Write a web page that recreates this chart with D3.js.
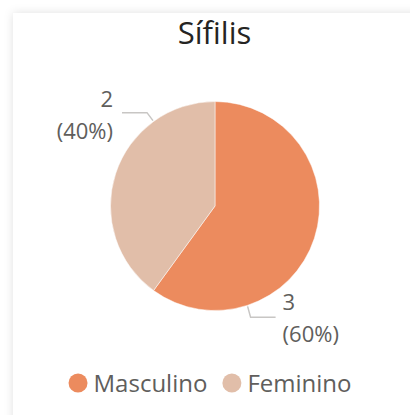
<!DOCTYPE html>
<meta charset="utf-8">
<style>
body{ margin: 0; background: #fff; }
text{ font-family: "Open Sans", "Noto Sans", sans-serif; }
.title{ fill: #252423; font-size: 31px; }
.lbl{ fill: #605e5c; font-size: 22px; }
.leg{ fill: #605e5c; font-size: 24px; }
.leader{ fill: none; stroke: #c8c6c4; stroke-width: 1.5px; }
</style>
<body>
<script src="https://d3js.org/d3.v7.min.js"></script>
<script>

var categories = ["Masculino", "Feminino"];
var values = [3, 2];
var colors = ["#ec8b5e", "#e1bea9"];
var title = "Sífilis";

var width = 410,
    height = 415;

var cx = 215, cy = 206, radius = 104.5;

var svg = d3.select("body").append("svg")
    .attr("width", width)
    .attr("height", height);

var defs = svg.append("defs");
var f = defs.append("filter").attr("id", "shadow")
    .attr("x", "-10%").attr("y", "-10%").attr("width", "120%").attr("height", "120%");
f.append("feDropShadow")
    .attr("dx", 0).attr("dy", 0).attr("stdDeviation", 5)
    .attr("flood-color", "#000").attr("flood-opacity", 0.12);

svg.append("rect")
    .attr("x", 13).attr("y", 13)
    .attr("width", 440).attr("height", 440)
    .attr("fill", "#fff")
    .attr("filter", "url(#shadow)");

svg.append("text")
    .attr("class", "title")
    .attr("x", 214.5).attr("y", 44)
    .attr("text-anchor", "middle")
    .text(title);

var data = categories.map((c, i) => ({name: c, value: values[i], color: colors[i]}));
var total = d3.sum(values);

var pie = d3.pie().sort(null).value(d => d.value);
var arc = d3.arc().innerRadius(0).outerRadius(radius);

var g = svg.append("g").attr("transform", "translate(" + cx + "," + cy + ")");
var arcs = pie(data);

g.selectAll("path")
  .data(arcs)
  .enter().append("path")
    .attr("d", arc)
    .attr("fill", d => d.data.color)
    .attr("stroke", "#fff")
    .attr("stroke-width", 0.5);

// leader layout: where along the slice the line starts (0..1), elbow offset, tail length
var leaderPos = [0.75, 0.75];
var leaderElbow = [[3, 11], [-6, -8]];
var leaderTail = [25, -25];

arcs.forEach(function(a, i) {
    var ang = a.startAngle + (a.endAngle - a.startAngle) * leaderPos[i];
    var x0 = Math.sin(ang) * (radius + 1),
        y0 = -Math.cos(ang) * (radius + 1);
    var x1 = x0 + leaderElbow[i][0],
        y1 = y0 + leaderElbow[i][1];
    var x2 = x1 + leaderTail[i];
    g.append("path")
        .attr("class", "leader")
        .attr("d", "M" + x0 + "," + y0 + "L" + x1 + "," + y1 + "L" + x2 + "," + y1);

    var right = leaderTail[i] > 0;
    var tx = right ? x2 + 7 : x2 - 9;
    var t = g.append("text")
        .attr("class", "lbl")
        .attr("text-anchor", right ? "start" : "end")
        .attr("x", tx)
        .attr("y", right ? y1 - 7 : y1 - 6);
    t.append("tspan").attr("x", tx).text(a.data.value);
    t.append("tspan").attr("x", tx).attr("dy", 32)
        .text("(" + Math.round(a.data.value / total * 100) + "%)");
});

// legend
var leg = svg.append("g");
var x = 0;
data.forEach(function(d, i) {
    leg.append("circle")
        .attr("cx", x + 9.5).attr("cy", 383).attr("r", 9.5)
        .attr("fill", d.color);
    var t = leg.append("text")
        .attr("class", "leg")
        .attr("x", x + 25).attr("y", 391.5)
        .text(d.name);
    x += 25 + t.node().getComputedTextLength() + 15;
});
var legW = x - 15;
leg.attr("transform", "translate(" + (210 - legW / 2) + ",0)");

</script>
